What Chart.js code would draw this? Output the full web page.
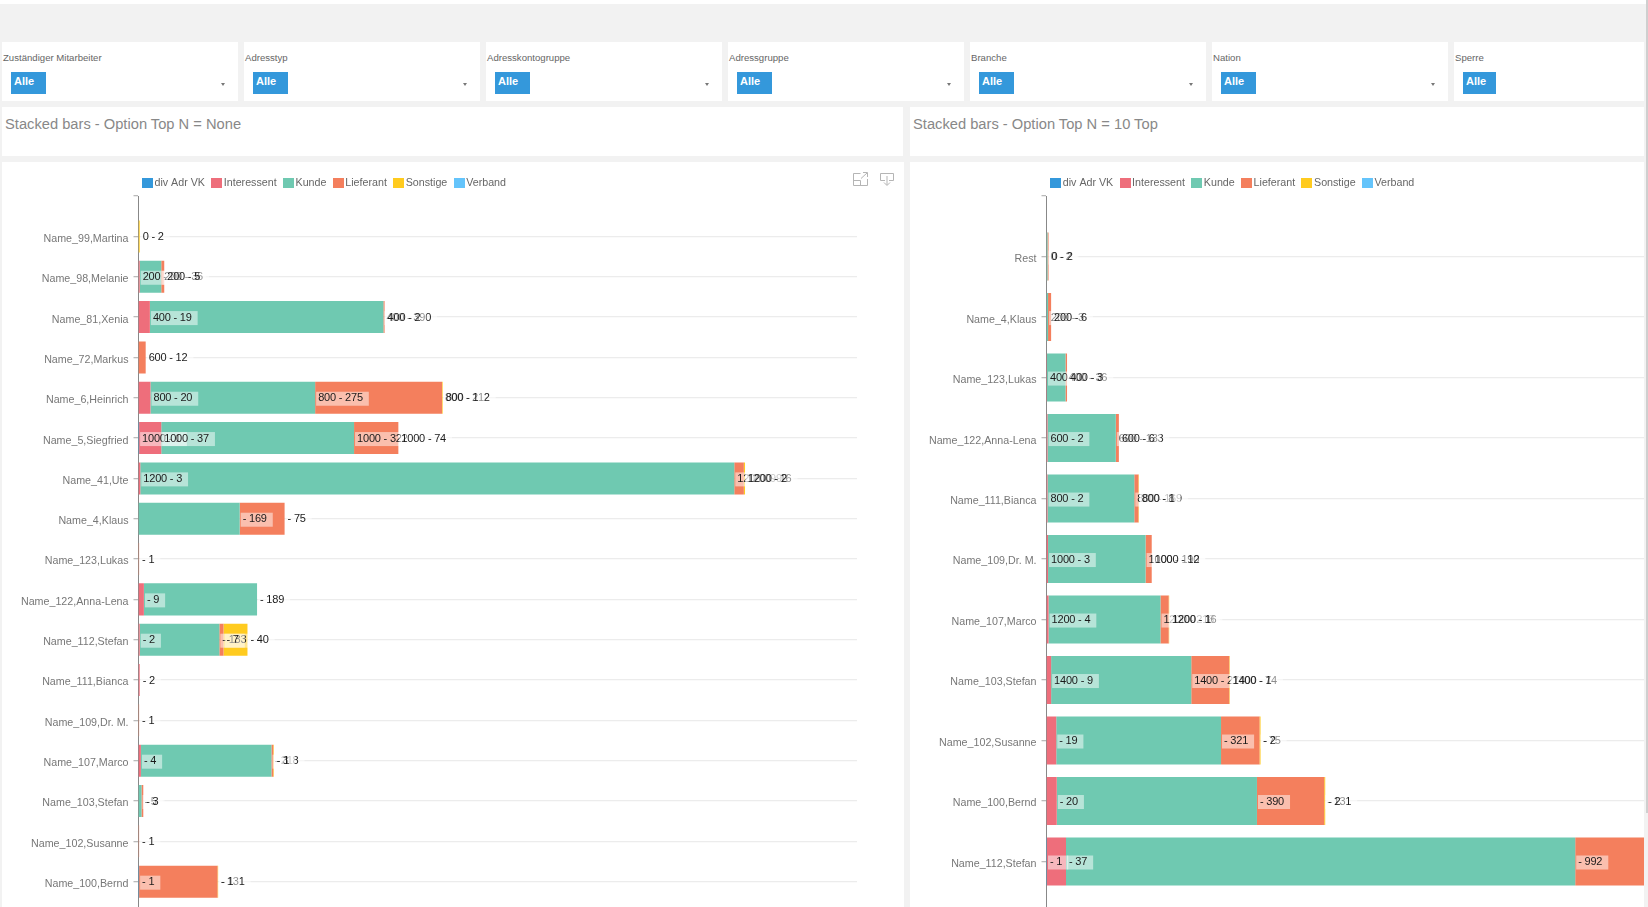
<!DOCTYPE html>
<html lang="de"><head><meta charset="utf-8"><title>Stacked bars</title>
<script src="https://cdn.jsdelivr.net/npm/chart.js@4"></script>
<style>
html,body{margin:0;padding:0;width:1648px;height:907px;overflow:hidden;background:#fff;font-family:"Liberation Sans",Arial,sans-serif}
#bg{position:absolute;left:0;top:4px;width:1648px;height:903px;background:#f2f2f2}
.card{position:absolute;background:#fff}
.flabel{position:absolute;left:1px;top:10px;font-size:9.6px;color:#666;white-space:nowrap}
.btn{position:absolute;left:9px;top:30px;width:35px;height:22px;background:#3498db;color:#fff;font-size:11px;font-weight:bold;line-height:19px;text-indent:3px}
.caret{position:absolute;left:219px;top:41px;width:0;height:0;border-left:2.5px solid transparent;border-right:2.5px solid transparent;border-top:3.5px solid #777}
.title{position:absolute;left:3px;top:9px;font-size:14.7px;color:#888;white-space:nowrap}
canvas{position:absolute;display:block}
#sb{position:absolute;left:1646px;top:0;width:2px;height:813px;background:#cfcfcf}
</style></head><body>
<div id="bg"></div>
<div id="filters"></div>
<div class="card" style="left:2px;top:107px;width:901px;height:49px"><div class="title">Stacked bars - Option Top N = None</div></div>
<div class="card" style="left:910px;top:107px;width:734px;height:49px"><div class="title">Stacked bars - Option Top N = 10 Top</div></div>
<div class="card" style="left:2px;top:162px;width:902px;height:745px"></div>
<div class="card" style="left:910px;top:162px;width:734px;height:745px"></div>
<svg style="position:absolute;left:852px;top:171px" width="44" height="17" fill="none" stroke="#b5b5b5" stroke-width="1">
<path d="M8.5 2.5H1.5V14.5H15.5V8M1.5 9.5H8.5V14.5M9 7.5L15 2M11 1.5H15.5V6"/>
<path d="M28.5 9.5V2.5H41.5V9.5H37M33 9.5H28.5M35 5V14M32 11.5L35 14.5L38 11.5"/>
</svg>
<div id="sb"></div>
<canvas id="c1" style="left:0;top:162px"></canvas>
<canvas id="c2" style="left:908px;top:162px"></canvas>
<script>
const filterNames=["Zuständiger Mitarbeiter","Adresstyp","Adresskontogruppe","Adressgruppe","Branche","Nation","Sperre"];
const seriesNames=["div Adr VK","Interessent","Kunde","Lieferant","Sonstige","Verband"];
const seriesColors=["#3498db","#ee6e7b","#6fc9b1","#f47f5d","#ffcb1f","#64c4fb"];

const leftCategories=["","Name_99,Martina","Name_98,Melanie","Name_81,Xenia","Name_72,Markus","Name_6,Heinrich","Name_5,Siegfried","Name_41,Ute","Name_4,Klaus","Name_123,Lukas","Name_122,Anna-Lena","Name_112,Stefan","Name_111,Bianca","Name_109,Dr. M.","Name_107,Marco","Name_103,Stefan","Name_102,Susanne","Name_100,Bernd",""];
const leftPrefix=["","0","200","400","600","800","1000","1200","","","","","","","","","","",""];
const leftDiv=[null,null,null,null,null,null,1,null,null,null,null,null,null,null,null,null,null,1,null];
const leftInteressent=[null,null,2,19,null,20,37,3,null,null,9,2,2,null,4,null,null,null,null];
const leftKunde=[null,null,36,390,null,275,322,992,169,null,189,133,null,null,218,5,null,null,null];
const leftLieferant=[null,null,5,2,12,212,74,16,75,1,null,7,null,1,3,3,1,131,null];
const leftSonstige=[null,2,null,null,null,1,null,2,null,null,null,40,null,null,1,null,null,1,null];
const leftVerband=[null,null,null,null,null,null,null,null,null,null,null,null,null,null,null,null,null,null,null];

const rightCategories=["","Rest","Name_4,Klaus","Name_123,Lukas","Name_122,Anna-Lena","Name_111,Bianca","Name_109,Dr. M.","Name_107,Marco","Name_103,Stefan","Name_102,Susanne","Name_100,Bernd","Name_112,Stefan",""];
const rightPrefix=["","0","200","400","600","800","1000","1200","1400","","","",""];
const rightDiv=[null,null,null,null,null,null,null,null,null,null,null,1,null];
const rightInteressent=[null,null,null,1,2,2,3,4,9,19,20,37,null];
const rightKunde=[null,2,3,36,133,169,190,218,273,321,390,992,null];
const rightLieferant=[null,2,6,3,6,8,12,16,74,75,131,150,null];
const rightSonstige=[null,null,null,null,null,1,null,1,1,2,2,null,null];
const rightVerband=[null,null,null,null,null,null,null,null,null,null,null,null,null];

const leftSeries=[leftDiv,leftInteressent,leftKunde,leftLieferant,leftSonstige,leftVerband];
const rightSeries=[rightDiv,rightInteressent,rightKunde,rightLieferant,rightSonstige,rightVerband];

filterNames.forEach((n,i)=>{
  const d=document.createElement('div');d.className='card';
  const x=2+242*i;
  d.style.cssText=`left:${x}px;top:42px;width:${i==6?190:236}px;height:59px`;
  d.innerHTML=`<div class="flabel">${n}</div><div class="btn" style="${i==6?'width:33px':''}">Alle</div>${i==6?'':'<div class="caret"></div>'}`;
  document.getElementById('filters').appendChild(d);
});

const FONT='"Liberation Sans",Arial,sans-serif';
const swatches=seriesColors.map(col=>{
  const s=document.createElement('canvas');s.width=11;s.height=10;
  const g=s.getContext('2d');g.fillStyle=col;g.fillRect(0,0,11,10);return s;
});
const segmentLabels={id:'segmentLabels',
 afterLayout(chart,args,opts){chart.legend.left=opts.legendLeft;chart.legend.top=opts.legendTop;},
 afterDatasetsDraw(chart,args,opts){
  const c=chart.ctx;c.save();
  c.font='11px '+FONT;c.letterSpacing='-0.2px';c.textBaseline='middle';c.textAlign='left';
  chart.data.datasets.forEach((ds,di)=>{
    const meta=chart.getDatasetMeta(di);
    ds.data.forEach((v,i)=>{
      if(v==null)return;
      const bar=meta.data[i];const p=opts.prefix[i];
      const t=(p?p+' ':'')+'- '+v;
      const w=c.measureText(t).width;
      c.fillStyle='rgba(255,255,255,0.5)';
      c.fillRect(bar.x+1,bar.y-6,w+8,14);
      c.fillStyle='#1a1a1a';
      c.fillText(t,bar.x+3,bar.y+0.5);
    });
  });
  c.restore();
}};

function draw(id,w,h,cats,series,prefix,xMax,padRight,legendLeft){
  const el=document.getElementById(id);
  el.style.width=w+'px';el.style.height=h+'px';el.width=w;el.height=h;
  return new Chart(el,{
    type:'bar',
    plugins:[segmentLabels],
    data:{labels:cats,datasets:seriesNames.map((n,i)=>({label:n,data:series[i],backgroundColor:seriesColors[i],borderWidth:0,barPercentage:1,categoryPercentage:0.794}))},
    options:{
      indexAxis:'y',responsive:false,animation:false,
      layout:{autoPadding:false,padding:{left:0,right:padRight,top:3.3,bottom:2}},
      plugins:{
        tooltip:{enabled:false},
        segmentLabels:{prefix,legendLeft,legendTop:5.9},
        legend:{position:'top',align:'start',labels:{usePointStyle:true,pointStyleWidth:3.4,boxHeight:10.7,padding:10.1,color:'#666',font:{size:10.7,family:FONT},
          generateLabels:ch=>Chart.defaults.plugins.legend.labels.generateLabels(ch).map((l,i)=>({...l,pointStyle:swatches[i]}))}}
      },
      scales:{
        x:{display:false,stacked:true,min:0,max:xMax},
        y:{stacked:true,offset:false,
          afterFit(s){s.width=138.5;s.paddingTop=0;s.paddingBottom=0},
          border:{color:'#888',width:1},
          grid:{display:true,offset:false,drawOnChartArea:true,drawTicks:true,tickLength:5,lineWidth:1.3,tickColor:'#bbb',
            color:ctx=>(ctx.tick&&ctx.tick.label==='')?'rgba(0,0,0,0)':'#ececec'},
          ticks:{autoSkip:false,padding:5,labelOffset:2.5,color:'#777',font:{size:10.7,family:FONT}}}
      }
    }
  });
}
draw('c1',860,762,leftCategories,leftSeries,leftPrefix,1200,3,135.6);
draw('c2',737,762,rightCategories,rightSeries,rightPrefix,1164,1,135.9);
</script>
</body></html>
